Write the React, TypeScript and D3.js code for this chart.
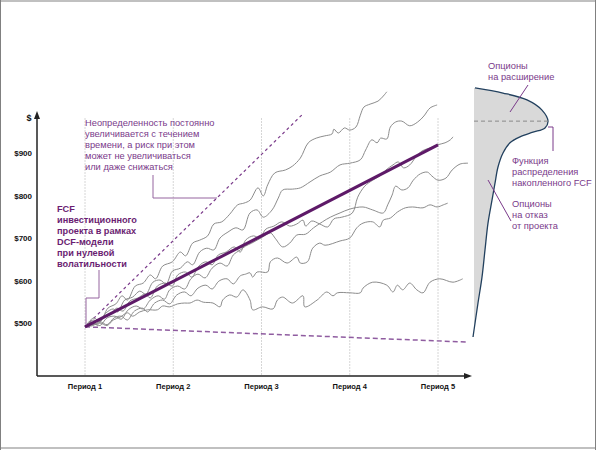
import React from "react";
import * as d3 from "d3";

const periods = ["Период 1", "Период 2", "Период 3", "Период 4", "Период 5"];
const periodIdx = [1, 2, 3, 4, 5];
const yTicks = [500, 600, 700, 800, 900];

const meanLine: [number, number][] = [[1, 491], [5, 919]];
const upperBound: [number, number][] = [[1, 491], [3.47, 992]];
const lowerBound: [number, number][] = [[1, 491], [5.34, 455]];

const pathA: [number, number][] = [
  [1.0, 491], [1.1, 512], [1.17, 503], [1.26, 535], [1.35, 545], [1.42, 564], [1.48, 554], [1.57, 587],
  [1.66, 594], [1.74, 613], [1.8, 604], [1.88, 634], [1.99, 644], [2.08, 667], [2.14, 658], [2.22, 688],
  [2.3, 695], [2.39, 705], [2.46, 733], [2.55, 738], [2.64, 756], [2.73, 778], [2.8, 782], [2.87, 789],
  [2.96, 818], [3.02, 799], [3.07, 825], [3.15, 853], [3.27, 860], [3.35, 869], [3.44, 888], [3.53, 924],
  [3.62, 935], [3.71, 940], [3.8, 945], [3.82, 956], [3.87, 947], [3.94, 959], [4.0, 954], [4.07, 961],
  [4.12, 989], [4.16, 1008], [4.23, 1015], [4.32, 1022], [4.38, 1034], [4.42, 1044],
];
const pathB: [number, number][] = [
  [1.0, 491], [1.09, 507], [1.16, 503], [1.24, 524], [1.32, 533], [1.37, 526], [1.45, 554], [1.54, 561],
  [1.62, 575], [1.69, 568], [1.77, 596], [1.85, 601], [1.92, 592], [1.99, 622], [2.08, 629], [2.16, 644],
  [2.22, 637], [2.3, 667], [2.38, 676], [2.46, 672], [2.53, 700], [2.62, 714], [2.71, 724], [2.79, 719],
  [2.87, 759], [2.95, 766], [3.02, 749], [3.12, 766], [3.19, 794], [3.24, 813], [3.35, 815], [3.44, 818],
  [3.55, 832], [3.66, 846], [3.78, 855], [3.89, 872], [4.0, 876], [4.12, 884], [4.18, 907], [4.25, 931],
  [4.31, 924], [4.35, 935], [4.42, 933], [4.46, 961], [4.52, 973], [4.59, 975], [4.68, 964], [4.77, 973],
  [4.84, 987], [4.91, 1006], [4.99, 1013],
];
const pathC: [number, number][] = [
  [1.0, 491], [1.08, 502], [1.14, 496], [1.22, 516], [1.29, 521], [1.36, 535], [1.43, 528], [1.51, 552],
  [1.6, 559], [1.68, 568], [1.74, 559], [1.82, 587], [1.91, 594], [1.99, 587], [2.05, 613], [2.14, 620],
  [2.21, 608], [2.29, 634], [2.37, 644], [2.44, 637], [2.51, 660], [2.6, 667], [2.69, 679], [2.76, 667],
  [2.82, 695], [2.91, 705], [2.98, 700], [3.05, 721], [3.14, 728], [3.23, 738], [3.32, 728], [3.4, 733],
  [3.47, 742], [3.5, 728], [3.57, 740], [3.66, 733], [3.75, 726], [3.82, 745], [3.91, 749], [4.03, 759],
  [4.09, 796], [4.17, 822], [4.26, 836], [4.34, 846], [4.41, 860], [4.49, 872], [4.55, 879], [4.61, 865],
  [4.68, 872], [4.75, 891], [4.82, 905], [4.91, 912], [4.99, 919], [5.08, 924], [5.14, 931], [5.17, 938],
];
const pathD: [number, number][] = [
  [1.0, 491], [1.09, 498], [1.17, 494], [1.25, 512], [1.34, 516], [1.41, 509], [1.49, 531], [1.58, 540],
  [1.66, 533], [1.74, 554], [1.83, 564], [1.9, 556], [1.96, 578], [2.05, 587], [2.13, 580], [2.2, 604],
  [2.28, 615], [2.36, 606], [2.44, 629], [2.53, 641], [2.61, 634], [2.68, 660], [2.76, 672], [2.82, 681],
  [2.89, 688], [3.01, 702], [3.1, 712], [3.16, 698], [3.24, 679], [3.32, 688], [3.4, 707], [3.5, 709],
  [3.59, 724], [3.69, 738], [3.78, 749], [3.89, 759], [4.0, 768], [4.15, 773], [4.26, 766], [4.38, 759],
  [4.43, 778], [4.48, 801], [4.52, 822], [4.59, 813], [4.66, 818], [4.72, 836], [4.8, 851], [4.88, 855],
  [4.93, 846], [5.0, 836], [5.09, 841], [5.16, 860], [5.25, 874], [5.34, 876],
];
const pathE: [number, number][] = [
  [1.0, 491], [1.09, 494], [1.17, 503], [1.25, 496], [1.33, 512], [1.41, 516], [1.48, 507], [1.56, 528],
  [1.65, 535], [1.71, 526], [1.79, 547], [1.88, 554], [1.96, 545], [2.04, 566], [2.13, 573], [2.2, 564],
  [2.28, 582], [2.37, 589], [2.44, 580], [2.52, 599], [2.61, 604], [2.68, 592], [2.76, 611], [2.82, 615],
  [2.87, 618], [2.9, 608], [2.95, 620], [3.07, 620], [3.1, 644], [3.18, 653], [3.29, 641], [3.4, 655],
  [3.44, 641], [3.52, 644], [3.58, 676], [3.66, 688], [3.72, 683], [3.89, 693], [4.0, 700], [4.08, 724],
  [4.15, 735], [4.26, 738], [4.34, 726], [4.38, 742], [4.46, 747], [4.54, 761], [4.63, 771], [4.71, 773],
  [4.83, 771], [4.91, 778], [4.99, 773], [5.06, 778], [5.11, 782],
];
const pathF: [number, number][] = [
  [1.0, 491], [1.09, 496], [1.17, 500], [1.25, 494], [1.32, 507], [1.4, 514], [1.48, 524], [1.54, 516],
  [1.62, 526], [1.71, 531], [1.82, 531], [1.88, 540], [1.96, 538], [2.05, 545], [2.13, 547], [2.19, 547],
  [2.27, 554], [2.34, 549], [2.45, 547], [2.53, 538], [2.56, 554], [2.64, 566], [2.72, 561], [2.79, 578],
  [2.87, 554], [2.9, 531], [3.01, 538], [3.13, 533], [3.18, 554], [3.24, 561], [3.35, 547], [3.47, 564],
  [3.49, 538], [3.63, 554], [3.74, 573], [3.81, 564], [3.86, 571], [4.0, 571], [4.12, 571], [4.15, 582],
  [4.26, 596], [4.42, 589], [4.49, 573], [4.54, 589], [4.6, 578], [4.68, 594], [4.76, 578], [4.83, 571],
  [4.91, 596], [5.02, 604], [5.17, 596], [5.28, 604],
];
const simPaths = [pathA, pathB, pathC, pathD, pathE, pathF];

// distribution of accumulated FCF: [value, density]
const densityCurve: [number, number][] = [
  [1053, 1], [1041, 29], [1025, 53], [1001, 68], [975, 74], [959, 71], [949, 59], [938, 46], [924, 36],
  [900, 29], [867, 24], [829, 21], [789, 18], [735, 14], [672, 11], [608, 8], [547, 4], [467, -1],
];
const densityPeak = 975;

const noteUncertainty = [
  "Неопределенность постоянно",
  "увеличивается с течением",
  "времени, а риск при этом",
  "может не увеличиваться",
  "или даже снижаться",
];
const noteDcf = ["FCF", "инвестиционного", "проекта в рамках", "DCF-модели", "при нулевой", "волатильности"];
const noteExpand = ["Опционы", "на расширение"];
const noteDistrib = ["Функция", "распределения", "накопленного FCF"];
const noteAbandon = ["Опционы", "на отказ", "от проекта"];

const FONT = "'Liberation Sans', Arial, Helvetica, sans-serif";
const PURPLE = "#5e1a68";
const PURPLE_TXT = "#7a3a8a";
const PURPLE_LEAD = "#95649f";

export default function App() {
  const x = d3.scaleLinear().domain([1, 5]).range([85, 438]);
  const y = d3.scaleLinear().domain([500, 900]).range([323, 153]);
  const dx = d3.scaleLinear().domain([0, 74]).range([474, 548]);

  const line = d3
    .line<[number, number]>()
    .x((d) => x(d[0]))
    .y((d) => y(d[1]));
  const wiggle = d3
    .line<[number, number]>()
    .x((d) => x(d[0]))
    .y((d) => y(d[1]))
    .curve(d3.curveCatmullRom.alpha(0.5));
  const densLine = d3
    .line<[number, number]>()
    .x((d) => dx(d[1]))
    .y((d) => y(d[0]))
    .curve(d3.curveCatmullRom.alpha(0.5));
  const densArea = d3
    .area<[number, number]>()
    .y((d) => y(d[0]))
    .x0(() => dx(0))
    .x1((d) => dx(d[1]))
    .curve(d3.curveCatmullRom.alpha(0.5));

  const axisX = 37;
  const axisY = 376;

  return (
    <svg
      width={596}
      height={450}
      style={{ position: "absolute", left: 0, top: 0, background: "#fff" }}
      fontFamily={FONT}
    >
      {/* frame */}
      <line x1={0} y1={1} x2={596} y2={1} stroke="#c0c0c0" strokeWidth={2} />
      <line x1={0} y1={448} x2={596} y2={448} stroke="#c0c0c0" strokeWidth={2} />
      <line x1={0.5} y1={0} x2={0.5} y2={450} stroke="#808080" strokeWidth={1} />
      <line x1={595.5} y1={0} x2={595.5} y2={450} stroke="#808080" strokeWidth={1} />

      {/* grid */}
      {periodIdx.map((p) => (
        <line key={p} x1={x(p)} x2={x(p)} y1={118} y2={axisY} stroke="#d6d6d6" strokeWidth={1} strokeDasharray="2,1" />
      ))}

      {/* distribution */}
      <path d={densArea(densityCurve) || ""} fill="#d9d9d9" />
      <path d={densLine(densityCurve) || ""} fill="none" stroke="#22405e" strokeWidth={1.3} />
      <line x1={dx(0)} x2={dx(74)} y1={y(densityPeak)} y2={y(densityPeak)} stroke="#8a8a8a" strokeWidth={1} strokeDasharray="4,3" />

      {/* bounds */}
      <path d={line(upperBound) || ""} fill="none" stroke="#7a3a8a" strokeWidth={1.2} strokeDasharray="3,3" />
      <path d={line(lowerBound) || ""} fill="none" stroke="#8f5ca0" strokeWidth={1.5} strokeDasharray="5,3" />

      {/* simulated paths */}
      {simPaths.map((p, i) => (
        <path key={i} d={wiggle(p) || ""} fill="none" stroke="#8c8c8c" strokeWidth={1} />
      ))}

      {/* mean line */}
      <path d={line(meanLine) || ""} fill="none" stroke={PURPLE} strokeWidth={3} />

      {/* axes */}
      <line x1={axisX} y1={axisY} x2={axisX} y2={117} stroke="#222" strokeWidth={1.5} />
      <polygon points={`${axisX},111 ${axisX - 3},119 ${axisX + 3},119`} fill="#222" />
      <line x1={axisX} y1={axisY} x2={466} y2={axisY} stroke="#222" strokeWidth={1.5} />
      <polygon points={`472,${axisY} 464,${axisY - 3} 464,${axisY + 3}`} fill="#222" />
      <text x={29} y={121} fontSize={9} fontWeight="bold" textAnchor="middle" fill="#111">$</text>

      {yTicks.map((t) => (
        <text key={t} x={32} y={y(t) + 3} fontSize={8} fontWeight="bold" textAnchor="end" fill="#111">
          ${t}
        </text>
      ))}
      {periods.map((p, i) => (
        <text key={p} x={x(periodIdx[i])} y={389} fontSize={7.5} fontWeight="bold" textAnchor="middle" fill="#111">
          {p}
        </text>
      ))}

      {/* annotations */}
      {noteUncertainty.map((s, i) => (
        <text key={i} x={85} y={126 + i * 11} fontSize={9.3} fill={PURPLE_TXT}>{s}</text>
      ))}
      <polyline points="153,175 153,198 217,198" fill="none" stroke={PURPLE_LEAD} strokeWidth={1} />

      {noteDcf.map((s, i) => (
        <text key={i} x={57} y={212 + i * 11} fontSize={9.2} fontWeight="bold" fill="#6b1e72">{s}</text>
      ))}
      <polyline points="99,270 99,298 86,298 86,325" fill="none" stroke={PURPLE_LEAD} strokeWidth={1} />

      {noteExpand.map((s, i) => (
        <text key={i} x={488} y={69 + i * 11} fontSize={9.3} fill={PURPLE_TXT}>{s}</text>
      ))}
      <line x1={528} y1={85} x2={510} y2={112} stroke={PURPLE_TXT} strokeWidth={1} />

      {noteDistrib.map((s, i) => (
        <text key={i} x={512} y={164 + i * 11} fontSize={9.3} fill={PURPLE_TXT}>{s}</text>
      ))}
      <polyline points="548,127 553,127 553,151" fill="none" stroke={PURPLE_TXT} strokeWidth={1} />

      {noteAbandon.map((s, i) => (
        <text key={i} x={512} y={207 + i * 11} fontSize={9.3} fill={PURPLE_TXT}>{s}</text>
      ))}
      <line x1={488} y1={180} x2={511} y2={221} stroke={PURPLE_TXT} strokeWidth={1} />
    </svg>
  );
}
